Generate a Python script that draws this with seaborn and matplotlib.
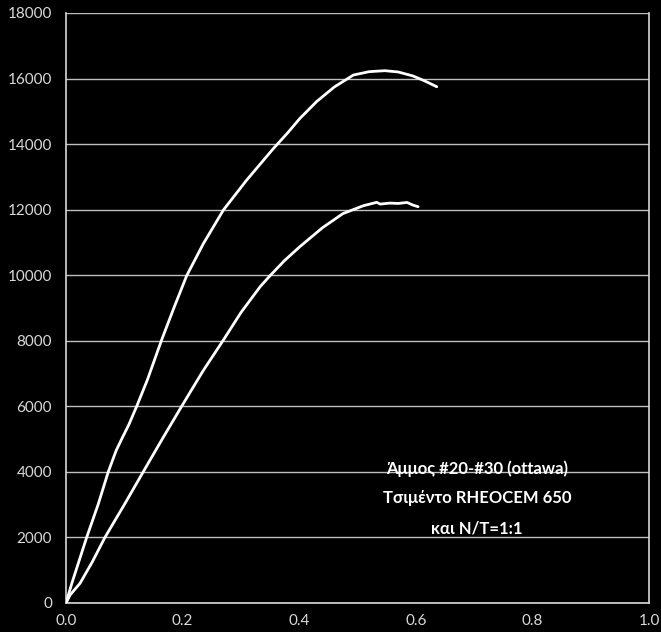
import matplotlib
matplotlib.use("Agg")
import matplotlib.pyplot as plt
import seaborn as sns
import pandas as pd

# Upper curve (strain, stress)
upper_x = [0.0, 0.010, 0.0355, 0.055, 0.0726, 0.086, 0.096, 0.108, 0.121, 0.1395, 0.164,
           0.185, 0.207, 0.2355, 0.270, 0.310, 0.355, 0.380, 0.401, 0.430, 0.460, 0.493,
           0.520, 0.547, 0.570, 0.595, 0.615, 0.636]
upper_y = [0, 600, 2005, 3000, 4006, 4650, 5020, 5450, 5990, 6803, 8024,
           9000, 9986, 10960, 11990, 12905, 13850, 14340, 14780, 15300, 15740, 16108,
           16210, 16240, 16200, 16080, 15930, 15750]

# Lower curve (strain, stress)
lower_x = [0.0, 0.007, 0.024, 0.045, 0.0669, 0.100, 0.1326, 0.165, 0.198, 0.235, 0.270,
           0.300, 0.333, 0.350, 0.375, 0.401, 0.440, 0.475, 0.510, 0.533, 0.539, 0.555,
           0.570, 0.585, 0.595, 0.604]
lower_y = [0, 244, 600, 1250, 2005, 3000, 4006, 5000, 5990, 7080, 8024,
           8860, 9650, 9986, 10450, 10870, 11450, 11880, 12120, 12224, 12170, 12200,
           12190, 12220, 12140, 12090]

annotation = "Άμμος #20-#30 (ottawa)\nΤσιμέντο RHEOCEM 650\nκαι N/T=1:1"
x_ticks = [0.0, 0.2, 0.4, 0.6, 0.8, 1.0]
y_ticks = list(range(0, 18001, 2000))

sns.set_style("dark")
plt.rcParams['font.family'] = ['Lato', 'DejaVu Sans']

fig = plt.figure(figsize=(6.61, 6.32), dpi=100, facecolor="black")
ax = fig.add_axes([66/661, 29/632, 583/661, 590/632])
ax.set_facecolor("black")

up = pd.DataFrame({"x": upper_x, "y": upper_y})
lo = pd.DataFrame({"x": lower_x, "y": lower_y})
sns.lineplot(data=up, x="x", y="y", sort=False, color="white", linewidth=2.0, ax=ax, zorder=3)
sns.lineplot(data=lo, x="x", y="y", sort=False, color="white", linewidth=2.0, ax=ax, zorder=3)
for line in ax.lines:
    line.set_solid_joinstyle("round")
    line.set_solid_capstyle("round")

ax.set_xlim(0, 1.0)
ax.set_ylim(0, 18000)
ax.set_xticks(x_ticks)
ax.set_xticklabels([f"{v:.1f}" for v in x_ticks])
ax.set_yticks(y_ticks)
ax.set_yticklabels([str(v) for v in y_ticks])
ax.set_xlabel("")
ax.set_ylabel("")

ax.grid(axis="y", color="#bfbfbf", linewidth=1.0)
ax.grid(axis="x", visible=False)
ax.set_axisbelow(True)

for side in ["left", "bottom", "right"]:
    ax.spines[side].set_visible(True)
    ax.spines[side].set_color("#d9d9d9")
    ax.spines[side].set_linewidth(1.2)
ax.spines["top"].set_visible(False)

ax.tick_params(axis="x", direction="in", length=5, width=1.2, color="#d9d9d9",
               labelcolor="#d9d9d9", labelsize=11, pad=8)
ax.tick_params(axis="y", direction="out", length=4, width=1.2, color="#d9d9d9",
               labelcolor="#d9d9d9", labelsize=11, pad=6)

ax.text(0.705, 3200, annotation, ha="center", va="center", color="white",
        fontsize=12, fontweight="bold", linespacing=2.05, zorder=4)

fig.savefig("out.png", dpi=100, facecolor="black")
